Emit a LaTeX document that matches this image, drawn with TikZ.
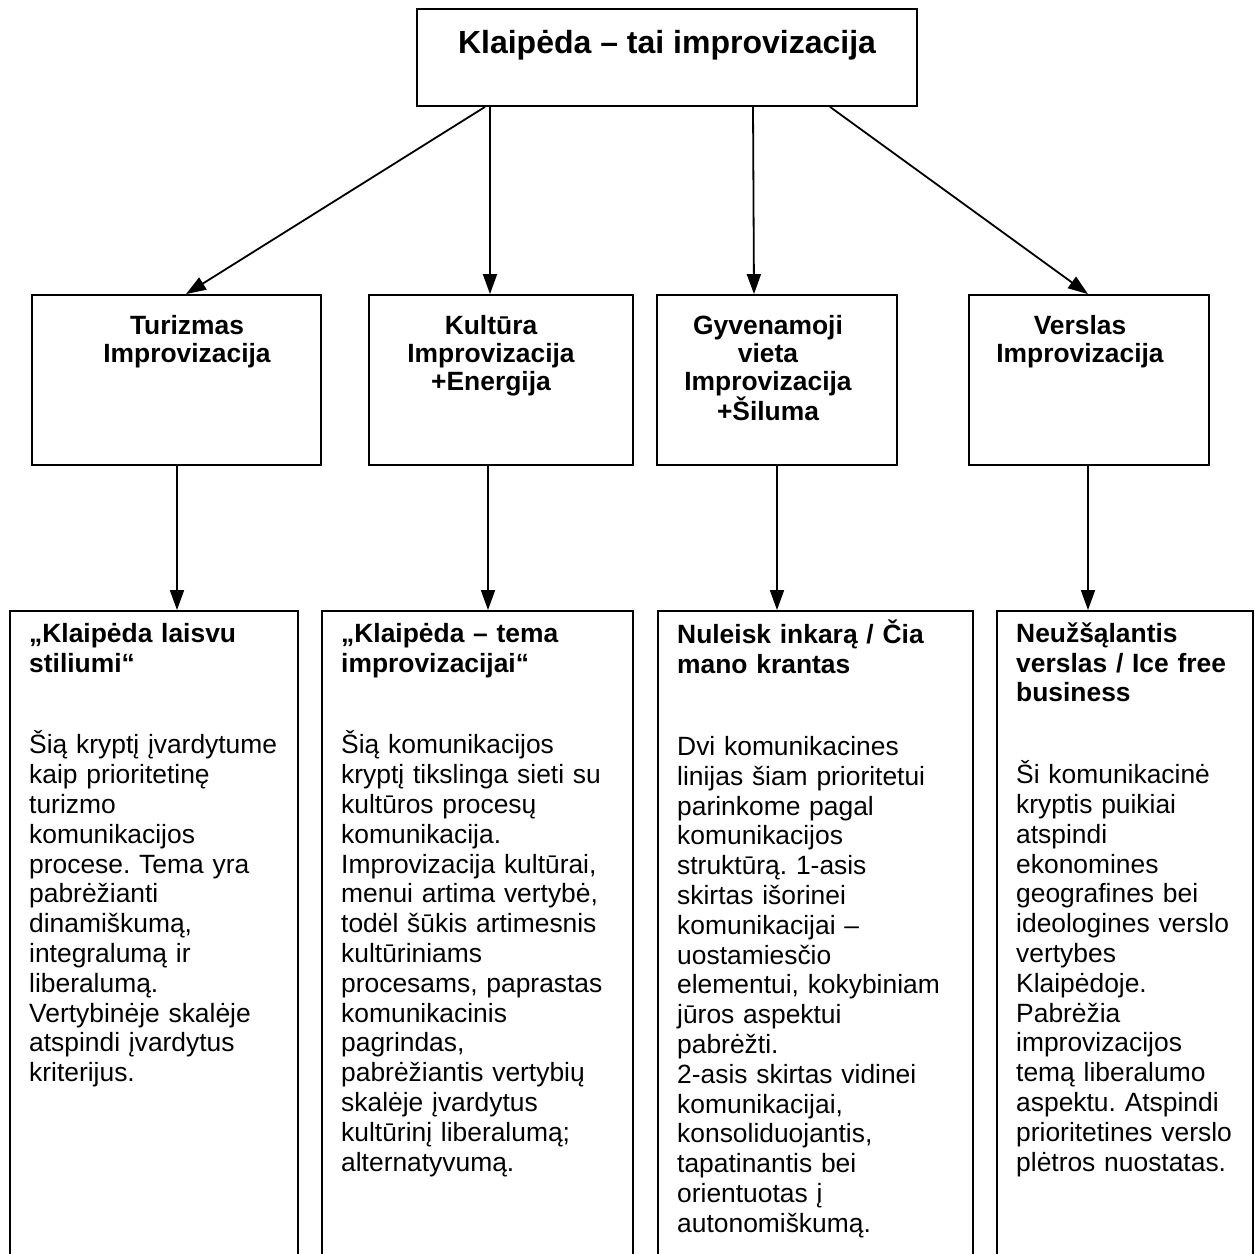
\documentclass[tikz,border=0pt]{standalone}
\usepackage{fontspec}
\setmainfont{Liberation Sans}
\frenchspacing
\usetikzlibrary{arrows.meta, positioning}

\tikzset{
  box/.style={draw, line width=1.8pt, rectangle, inner sep=0pt},
  arr/.style={line width=1.8pt, -{Triangle[length=20pt, width=14pt]}},
  bodytxt/.style={inner sep=0pt, align=left, text width=320pt,
    font=\fontsize{26.4}{29.8}\selectfont},
  headtxt/.style={inner sep=0pt, align=center,
    font=\fontsize{26.4}{28.3}\selectfont\bfseries},
}

\begin{document}
\begin{tikzpicture}[x=1pt, y=-1pt]
\clip (0,0) rectangle (1255,1253);
\fill[white] (0,0) rectangle (1255,1253);

% top box
\node[box, minimum width=500pt, minimum height=97pt] (top) at (667,57.5) {};
\node[inner sep=0pt, font=\fontsize{32}{34}\selectfont\bfseries, anchor=base]
  (toptxt) at (667,53) {Klaipėda – tai improvizacija};

% middle row
\node[box, minimum width=289pt, minimum height=170pt] (mb1) at (176.5,380) {};
\node[box, minimum width=264pt, minimum height=170pt] (mb2) at (501,380) {};
\node[box, minimum width=240pt, minimum height=170pt] (mb3) at (777,380) {};
\node[box, minimum width=240pt, minimum height=170pt] (mb4) at (1089,380) {};

\node[headtxt, anchor=north] (mt1) at (187,314) {\rule{0pt}{20pt}Turizmas\\Improvizacija};
\node[headtxt, anchor=north] (mt2) at (491,314) {\rule{0pt}{20pt}Kultūra\\Improvizacija\\+Energija};
\node[headtxt, anchor=north] (mt3) at (768,314) {\rule{0pt}{20pt}Gyvenamoji\\vieta\\Improvizacija\\+Šiluma};
\node[headtxt, anchor=north] (mt4) at (1080,314) {\rule{0pt}{20pt}Verslas\\Improvizacija};

% bottom row (boxes run past the lower edge)
\node[box, minimum width=288pt, minimum height=700pt, anchor=north west] (bb1) at (9,610) {};
\node[box, minimum width=311pt, minimum height=700pt, anchor=north west] (bb2) at (321,610) {};
\node[box, minimum width=315pt, minimum height=700pt, anchor=north west] (bb3) at (657,610) {};
\node[box, minimum width=256pt, minimum height=700pt, anchor=north west] (bb4) at (996,610) {};

\node[bodytxt, anchor=north west] (bt1) at (29,620) {\rule{0pt}{22pt}%
{\bfseries „Klaipėda laisvu\\stiliumi“}\\[52pt]
Šią kryptį įvardytume\\kaip prioritetinę\\turizmo\\komunikacijos\\procese. Tema yra\\pabrėžianti\\dinamiškumą,\\integralumą ir\\liberalumą.\\Vertybinėje skalėje\\atspindi įvardytus\\kriterijus.};

\node[bodytxt, anchor=north west] (bt2) at (341,620) {\rule{0pt}{22pt}%
{\bfseries „Klaipėda – tema\\improvizacijai“}\\[52pt]
Šią komunikacijos\\kryptį tikslinga sieti su\\kultūros procesų\\komunikacija.\\Improvizacija kultūrai,\\menui artima vertybė,\\todėl šūkis artimesnis\\kultūriniams\\procesams, paprastas\\komunikacinis\\pagrindas,\\pabrėžiantis vertybių\\skalėje įvardytus\\kultūrinį liberalumą;\\alternatyvumą.};

\node[bodytxt, anchor=north west] (bt3) at (677,620) {\rule{0pt}{22pt}%
{\bfseries Nuleisk inkarą / Čia\\mano krantas}\\[52pt]
Dvi komunikacines\\linijas šiam prioritetui\\parinkome pagal\\komunikacijos\\struktūrą. 1-asis\\skirtas išorinei\\komunikacijai –\\uostamiesčio\\elementui, kokybiniam\\jūros aspektui\\pabrėžti.\\2-asis skirtas vidinei\\komunikacijai,\\konsoliduojantis,\\tapatinantis bei\\orientuotas į\\autonomiškumą.};

\node[bodytxt, anchor=north west] (bt4) at (1016,620) {\rule{0pt}{22pt}%
{\bfseries Neužšąlantis\\verslas / Ice free\\business}\\[52pt]
Ši komunikacinė\\kryptis puikiai\\atspindi\\ekonomines\\geografines bei\\ideologines verslo\\vertybes\\Klaipėdoje.\\Pabrėžia\\improvizacijos\\temą liberalumo\\aspektu. Atspindi\\prioritetines verslo\\plėtros nuostatas.};

% arrows top -> middle
\draw[arr] ([xshift=-182pt]top.south) -- ([xshift=9.5pt]mb1.north);
\draw[arr] ([xshift=-177pt]top.south) -- ([xshift=-11pt]mb2.north);
\draw[arr] ([xshift=86pt]top.south) -- ([xshift=-23pt]mb3.north);
\draw[arr] ([xshift=163pt]top.south) -- ([xshift=-1pt]mb4.north);

% arrows middle -> bottom
\draw[arr] ([xshift=0.5pt]mb1.south) -- ([xshift=0.5pt]mb1.south |- bb1.north);
\draw[arr] ([xshift=-13pt]mb2.south) -- ([xshift=-13pt]mb2.south |- bb2.north);
\draw[arr] (mb3.south) -- (mb3.south |- bb3.north);
\draw[arr] ([xshift=-1pt]mb4.south) -- ([xshift=-1pt]mb4.south |- bb4.north);
\end{tikzpicture}
\end{document}
